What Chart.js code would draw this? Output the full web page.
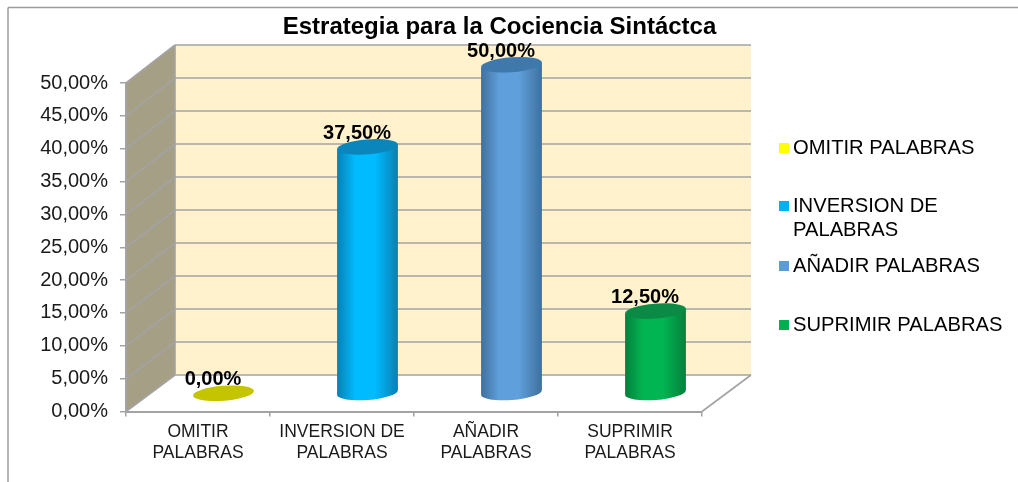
<!DOCTYPE html>
<html>
<head>
<meta charset="utf-8">
<style>
  html, body { margin: 0; padding: 0; background: #fff; }
  #wrap { width: 1018px; height: 482px; }
</style>
<script src="https://cdn.jsdelivr.net/npm/chart.js@4"></script>
</head>
<body>
<div id="wrap"><canvas id="chart"></canvas></div>
<script>
const titleText = 'Estrategia para la Cociencia Sintáctca';
const categories = [['OMITIR', 'PALABRAS'], ['INVERSION DE', 'PALABRAS'], ['AÑADIR', 'PALABRAS'], ['SUPRIMIR', 'PALABRAS']];
const legendLabels = [['OMITIR PALABRAS'], ['INVERSION DE', 'PALABRAS'], ['AÑADIR PALABRAS'], ['SUPRIMIR PALABRAS']];
const values = [0, 37.5, 50, 12.5];

const legendColors = ['#FFFF00', '#00B0F0', '#5B9BD5', '#00B050'];
const sideBright = ['#C4C400', '#00BBFF', '#5F9FDB', '#02B553'];
const sideDark = ['#8A8A00', '#0A7FB0', '#3F709C', '#067F3C'];
const topColors = ['#C4C400', '#0A86BC', '#3F78AA', '#0A8A44'];

const FONT = '"Liberation Sans", Arial, sans-serif';
const GRID = '#A3A3A3';
// depth of the fake 3d box, in px
const DEPTH_X = 49;
const DEPTH_Y = 36.5;
const TILT = -4.5 * Math.PI / 180;

function pct(v) {
    return v.toFixed(2).replace('.', ',') + '%';
}

function line(ctx, x1, y1, x2, y2) {
    ctx.beginPath();
    ctx.moveTo(x1, y1);
    ctx.lineTo(x2, y2);
    ctx.stroke();
}

function poly(ctx, pts, fill) {
    ctx.beginPath();
    pts.forEach((p, i) => i ? ctx.lineTo(p[0], p[1]) : ctx.moveTo(p[0], p[1]));
    ctx.closePath();
    ctx.fillStyle = fill;
    ctx.fill();
}

const boxPlugin = {
    id: 'box3d',
    beforeDraw(chart) {
        const { ctx, chartArea: a, scales: { y } } = chart;
        ctx.save();
        ctx.fillStyle = '#fff';
        ctx.fillRect(0, 0, chart.width, chart.height);

        // outer frame, only top and left show in the screenshot
        ctx.strokeStyle = '#9C9C9C';
        ctx.lineWidth = 1.5;
        line(ctx, 8, 7.5, chart.width, 7.5);
        line(ctx, 8, 7.5, 8, chart.height);

        const dx = DEPTH_X, dy = DEPTH_Y;
        poly(ctx, [[a.left, a.top], [a.left + dx, a.top - dy - 1.5], [a.left + dx, a.bottom - dy], [a.left, a.bottom]], '#A59F85');
        poly(ctx, [[a.left + dx, a.top - dy - 1.5], [a.right + dx, a.top - dy - 1.5], [a.right + dx, a.bottom - dy], [a.left + dx, a.bottom - dy]], '#FFF2CC');

        ctx.strokeStyle = GRID;
        ctx.lineWidth = 1.6;
        y.ticks.forEach(t => {
            const py = y.getPixelForValue(t.value);
            const back = py - dy - 1.5 * (a.bottom - py) / (a.bottom - a.top);
            line(ctx, a.left, py, a.left + dx, back);
            line(ctx, a.left + dx, back, a.right + dx, back);
        });
        line(ctx, a.left + dx, a.top - dy - 1.5, a.left + dx, a.bottom - dy);
        line(ctx, a.right, a.bottom, a.right + dx, a.bottom - dy);
        ctx.restore();
    },
    beforeDatasetDraw(chart, args) {
        const { ctx } = chart;
        ctx.save();
        args.meta.data.forEach((bar, i) => {
            const rx = bar.width / 2, ry = 7.5;
            const cx = bar.x + DEPTH_X / 2 + 1;
            const topY = bar.y - DEPTH_Y / 2;
            const baseY = bar.base - DEPTH_Y / 2;
            const ex = rx * Math.cos(TILT), ey = rx * Math.sin(TILT);

            if (values[i] > 0) {
                const g = ctx.createLinearGradient(cx - rx, 0, cx + rx, 0);
                g.addColorStop(0, sideDark[i]);
                g.addColorStop(0.3, sideBright[i]);
                g.addColorStop(0.62, sideBright[i]);
                g.addColorStop(1, sideDark[i]);
                ctx.beginPath();
                ctx.ellipse(cx, baseY, rx, ry, TILT, 0, Math.PI);
                ctx.lineTo(cx - ex, topY - ey);
                ctx.lineTo(cx + ex, topY + ey);
                ctx.closePath();
                ctx.fillStyle = g;
                ctx.fill();
            }
            ctx.beginPath();
            ctx.ellipse(cx, topY, rx, ry, TILT, 0, Math.PI * 2);
            ctx.fillStyle = topColors[i];
            ctx.fill();
        });
        ctx.restore();
        return false;
    },
    afterDatasetsDraw(chart) {
        const { ctx } = chart;
        const meta = chart.getDatasetMeta(0);
        ctx.save();
        ctx.fillStyle = '#000';
        ctx.font = 'bold 20px ' + FONT;
        ctx.textAlign = 'center';
        ctx.textBaseline = 'middle';
        meta.data.forEach((bar, i) => {
            ctx.fillText(pct(values[i]), bar.x + 15, bar.y - 32);
        });

        // legend, spaced by hand like the original
        const rows = [148, 206, 266, 325];
        ctx.font = '20.2px ' + FONT;
        ctx.textAlign = 'left';
        legendLabels.forEach((lines, i) => {
            ctx.fillStyle = legendColors[i];
            ctx.fillRect(779, rows[i] - 5, 10, 10);
            ctx.fillStyle = '#000';
            lines.forEach((txt, k) => ctx.fillText(txt, 793, rows[i] + k * 24));
        });
        ctx.restore();
    },
    afterLayout(chart) {
        // title sits a bit left of the canvas centre
        chart.titleBlock.left = 0;
        chart.titleBlock.right = 999;
    }
};

new Chart(document.getElementById('chart'), {
    type: 'bar',
    data: {
        labels: categories,
        datasets: [{
            data: values,
            backgroundColor: legendColors,
            categoryPercentage: 1,
            barPercentage: 0.4236
        }]
    },
    plugins: [boxPlugin],
    options: {
        responsive: true,
        maintainAspectRatio: false,
        animation: false,
        layout: { padding: { left: 0, right: 316, top: 0, bottom: 0 } },
        plugins: {
            legend: { display: false },
            tooltip: { enabled: false },
            title: {
                display: true,
                text: titleText,
                color: '#000',
                font: { family: FONT, size: 24, weight: 'bold', lineHeight: 1.2 },
                padding: { top: 12.6, bottom: 41.6 }
            }
        },
        scales: {
            x: {
                afterFit: s => { s.height = 70.5; },
                grid: { drawOnChartArea: false, color: GRID, tickLength: 5, lineWidth: 1.5 },
                border: { color: GRID, width: 2 },
                ticks: {
                    color: '#1a1a1a',
                    font: { family: FONT, size: 17.5, lineHeight: 1.2 },
                    padding: 5,
                    maxRotation: 0,
                    autoSkip: false
                }
            },
            y: {
                min: 0,
                max: 50,
                afterFit: s => { s.width = 126; },
                grid: { drawOnChartArea: false, color: GRID, tickLength: 6, lineWidth: 1.5 },
                border: { color: GRID, width: 2 },
                ticks: {
                    stepSize: 5,
                    color: '#1a1a1a',
                    font: { family: FONT, size: 20 },
                    padding: 12,
                    callback: v => pct(v)
                }
            }
        }
    }
});
</script>
</body>
</html>
